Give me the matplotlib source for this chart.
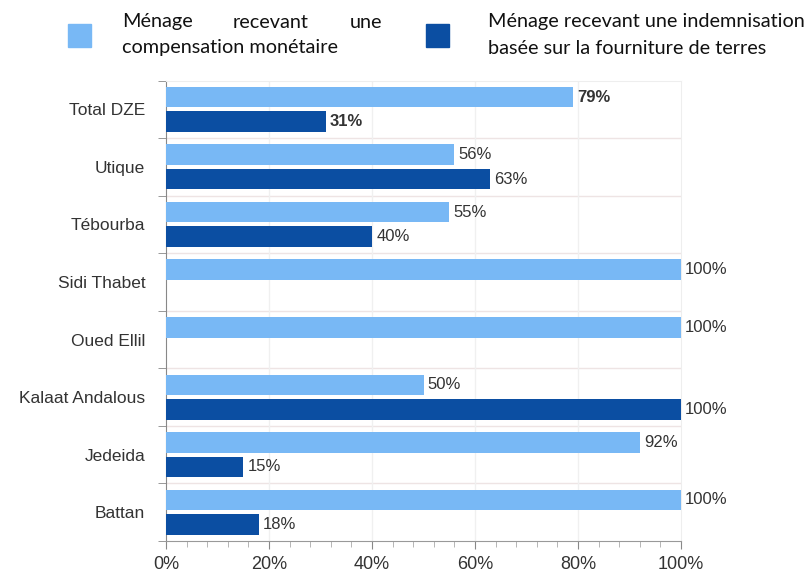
import numpy as np
import matplotlib.pyplot as plt
from matplotlib.patches import Rectangle
from matplotlib.ticker import MultipleLocator

# Données : part des ménages par délégation
categories = ['Total DZE', 'Utique', 'Tébourba', 'Sidi Thabet', 'Oued Ellil',
              'Kalaat Andalous', 'Jedeida', 'Battan']
monetaire = [79, 56, 55, 100, 100, 50, 92, 100]
terres = [31, 63, 40, np.nan, np.nan, 100, 15, 18]
xticks = [0, 20, 40, 60, 80, 100]
legende = ['Ménage recevant une compensation monétaire',
           'Ménage recevant une indemnisation basée sur la fourniture de terres']

clair = '#78B8F5'
fonce = '#0B4EA2'
texte = '#333333'

W, H = 811, 578
fig = plt.figure(figsize=(W / 100, H / 100), dpi=100)
plt.rcParams['font.family'] = ['Liberation Sans', 'DejaVu Sans']


def fx(x):
    return x / W


def fy(y):
    return 1 - y / H


ax = fig.add_axes([fx(166), fy(541), fx(681) - fx(166), fy(80.5) - fy(541)])

y = np.arange(len(categories))
dec = 0.213
h = 0.357
ax.barh(y - dec, monetaire, height=h, color=clair, zorder=3)
ax.barh(y + dec, terres, height=h, color=fonce, zorder=3)

# étiquettes de valeur
for i in range(len(categories)):
    poids = 'bold' if i == 0 else 'normal'
    for vals, off in ((monetaire, -dec), (terres, dec)):
        v = vals[i]
        if np.isnan(v):
            continue
        ax.annotate(f'{v:.0f}%', (v, i + off), xytext=(3, 0), textcoords='offset points',
                    va='center', ha='left', fontsize=12, color=texte, fontweight=poids)

ax.set_xlim(0, 100)
ax.set_ylim(len(categories) - 0.5, -0.5)

ax.set_xticks(xticks)
ax.set_xticklabels([f'{t}%' for t in xticks], fontsize=13, color=texte)
ax.xaxis.set_minor_locator(MultipleLocator(4))
ax.tick_params(axis='x', which='major', length=6, color='#888888', pad=5)
ax.tick_params(axis='x', which='minor', length=4, color='#AAAAAA')

ax.set_yticks(y)
ax.set_yticklabels(categories, fontsize=12.5, color=texte)
ax.set_yticks(np.arange(len(categories) + 1) - 0.5, minor=True)
ax.tick_params(axis='y', which='major', length=0, pad=15)
ax.tick_params(axis='y', which='minor', length=6, color='#888888')

# grille légère
for b in np.arange(1, len(categories)) - 0.5:
    ax.axhline(b, color='#EEE4E4', lw=1, zorder=1)
for t in xticks[1:-1]:
    ax.axvline(t, color='#F0F0F0', lw=1, zorder=1)

ax.spines['left'].set_color('#888888')
ax.spines['bottom'].set_color('#999999')
ax.spines['top'].set_color('#EEEEEE')
ax.spines['right'].set_color('#EEEEEE')

# légende en haut
fig.add_artist(Rectangle((fx(68), fy(47)), fx(23), fy(24) - fy(47),
                         transform=fig.transFigure, color=clair))
fig.add_artist(Rectangle((fx(426), fy(47)), fx(23), fy(24) - fy(47),
                         transform=fig.transFigure, color=fonce))

lf = dict(fontsize=14.3, color='#111111', family=['Lato', 'DejaVu Sans'], va='center')
mots = legende[0].split()
fig.text(fx(122), fy(22), mots[0], ha='left', **lf)
fig.text(fx(271), fy(22), mots[1], ha='center', **lf)
fig.text(fx(382), fy(22), mots[2], ha='right', **lf)
fig.text(fx(122), fy(48), ' '.join(mots[3:]), ha='left', **lf)

mots2 = legende[1].split()
fig.text(fx(488), fy(22), ' '.join(mots2[:4]), ha='left', **lf)
fig.text(fx(488), fy(48), ' '.join(mots2[4:]), ha='left', **lf)

fig.savefig('out.png', dpi=100)
